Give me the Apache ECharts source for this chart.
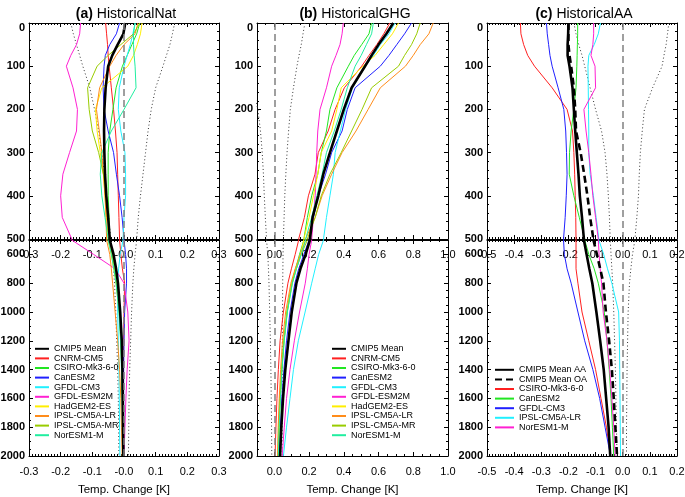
<!DOCTYPE html>
<html>
<head>
<meta charset="utf-8">
<script src="https://cdn.jsdelivr.net/npm/echarts@6/dist/echarts.min.js"></script>
<style>
  html, body { margin: 0; padding: 0; background: #fff; }
  #chart { width: 685px; height: 497px; }
</style>
</head>
<body>
<div id="chart"></div>
<script>
// depth levels (m), shared by every profile
var depth = [0, 25, 50, 75, 100, 150, 200, 250, 300, 350, 400, 450, 500, 600, 700, 800, 1000, 1200, 1400, 1600, 1800, 2000];

// (a) HistoricalNat, temperature change [K]
var natMean   = [0.004, -0.002, -0.02, -0.037, -0.05, -0.058, -0.062, -0.063, -0.062, -0.06, -0.056, -0.05, -0.045, -0.033, -0.025, -0.019, -0.012, -0.007, -0.005, -0.004, -0.003, -0.002];
var natCNRM   = [-0.058, -0.055, -0.052, -0.05, -0.047, -0.04, -0.033, -0.027, -0.022, -0.02, -0.018, -0.016, -0.014, -0.01, -0.005, 0.002, 0.0, -0.001, -0.002, -0.002, -0.002, -0.002];
var natCSIRO  = [0.05, 0.04, 0.025, 0.01, -0.005, -0.025, -0.035, -0.045, -0.05, -0.05, -0.05, -0.047, -0.045, -0.035, -0.027, -0.02, -0.012, -0.008, -0.006, -0.005, -0.004, -0.003];
var natCanESM = [-0.014, -0.024, -0.045, -0.059, -0.063, -0.066, -0.063, -0.05, -0.033, -0.024, -0.014, -0.006, 0.0, 0.005, 0.008, 0.008, 0.002, 0.0, -0.001, -0.001, -0.001, -0.001];
var natGFDLCM = [0.035, 0.028, 0.02, 0.01, 0.0, -0.015, -0.018, -0.01, 0.003, 0.005, 0.005, 0.0, -0.003, -0.012, -0.017, -0.02, -0.02, -0.018, -0.016, -0.015, -0.014, -0.013];
var natGFDLESM = [-0.137, -0.14, -0.15, -0.168, -0.182, -0.161, -0.147, -0.15, -0.172, -0.193, -0.2, -0.195, -0.165, -0.096, -0.028, 0.0, 0.012, 0.016, 0.01, 0.006, 0.003, 0.0];
var natHadGEM = [0.057, 0.052, 0.042, 0.03, 0.012, -0.07, -0.09, -0.085, -0.075, -0.065, -0.06, -0.055, -0.05, -0.04, -0.032, -0.025, -0.015, -0.01, -0.007, -0.005, -0.004, -0.003];
var natIPSLLR = [0.044, 0.035, 0.0, -0.025, -0.045, -0.077, -0.087, -0.078, -0.07, -0.065, -0.06, -0.057, -0.055, -0.045, -0.04, -0.036, -0.028, -0.02, -0.014, -0.01, -0.008, -0.006];
var natIPSLMR = [0.05, 0.03, -0.01, -0.05, -0.085, -0.115, -0.11, -0.1, -0.08, -0.065, -0.055, -0.05, -0.045, -0.038, -0.03, -0.024, -0.015, -0.01, -0.007, -0.005, -0.004, -0.003];
var natNorESM = [0.035, 0.03, 0.03, 0.032, 0.035, 0.038, 0.0, -0.04, -0.07, -0.075, -0.07, -0.06, -0.05, -0.04, -0.032, -0.025, -0.016, -0.011, -0.008, -0.006, -0.005, -0.004];
var natUpper  = [0.16, 0.153, 0.145, 0.134, 0.123, 0.1, 0.086, 0.076, 0.068, 0.06, 0.052, 0.045, 0.04, 0.035, 0.031, 0.028, 0.024, 0.021, 0.018, 0.016, 0.015, 0.014];
var natLower  = [-0.168, -0.16, -0.15, -0.14, -0.13, -0.108, -0.093, -0.08, -0.07, -0.062, -0.055, -0.048, -0.042, -0.037, -0.033, -0.03, -0.026, -0.023, -0.02, -0.018, -0.017, -0.016];

// (b) HistoricalGHG
var ghgMean   = [0.685, 0.645, 0.6, 0.56, 0.522, 0.445, 0.4, 0.36, 0.32, 0.282, 0.253, 0.22, 0.205, 0.18, 0.15, 0.127, 0.1, 0.081, 0.063, 0.05, 0.04, 0.033];
var ghgCNRM   = [0.665, 0.63, 0.59, 0.545, 0.503, 0.403, 0.35, 0.31, 0.253, 0.234, 0.196, 0.173, 0.14, 0.12, 0.098, 0.078, 0.052, 0.033, 0.023, 0.015, 0.009, 0.004];
var ghgCSIRO  = [0.56, 0.545, 0.503, 0.46, 0.426, 0.36, 0.32, 0.3, 0.27, 0.25, 0.215, 0.19, 0.17, 0.145, 0.122, 0.1, 0.072, 0.054, 0.042, 0.032, 0.025, 0.02];
var ghgCanESM = [0.79, 0.75, 0.705, 0.66, 0.61, 0.465, 0.42, 0.39, 0.33, 0.295, 0.253, 0.225, 0.2, 0.17, 0.14, 0.118, 0.09, 0.07, 0.055, 0.043, 0.035, 0.028];
var ghgGFDLCM = [0.695, 0.66, 0.61, 0.57, 0.525, 0.45, 0.41, 0.38, 0.35, 0.34, 0.32, 0.3, 0.283, 0.255, 0.235, 0.215, 0.177, 0.138, 0.11, 0.09, 0.07, 0.052];
var ghgGFDLESM = [0.397, 0.39, 0.378, 0.355, 0.33, 0.3, 0.263, 0.25, 0.244, 0.24, 0.235, 0.225, 0.215, 0.2, 0.19, 0.178, 0.145, 0.115, 0.09, 0.07, 0.057, 0.045];
var ghgHadGEM = [0.715, 0.68, 0.63, 0.58, 0.51, 0.385, 0.36, 0.33, 0.27, 0.25, 0.225, 0.2, 0.17, 0.15, 0.122, 0.1, 0.073, 0.055, 0.042, 0.033, 0.027, 0.022];
var ghgIPSLLR = [0.915, 0.89, 0.84, 0.8, 0.755, 0.61, 0.54, 0.47, 0.39, 0.33, 0.275, 0.235, 0.18, 0.15, 0.12, 0.095, 0.065, 0.047, 0.036, 0.028, 0.022, 0.018];
var ghgIPSLMR = [0.84, 0.82, 0.79, 0.75, 0.715, 0.56, 0.505, 0.445, 0.385, 0.32, 0.27, 0.235, 0.19, 0.155, 0.127, 0.103, 0.074, 0.056, 0.043, 0.034, 0.028, 0.023];
var ghgNorESM = [0.57, 0.56, 0.53, 0.5, 0.465, 0.42, 0.385, 0.345, 0.3, 0.275, 0.245, 0.215, 0.18, 0.155, 0.127, 0.104, 0.075, 0.057, 0.044, 0.035, 0.028, 0.023];
var ghgUpper  = [0.176, 0.165, 0.155, 0.142, 0.13, 0.11, 0.092, 0.082, 0.073, 0.066, 0.06, 0.056, 0.052, 0.05, 0.049, 0.048, 0.047, 0.046, 0.046, 0.045, 0.045, 0.045];
var ghgLower  = [-0.25, -0.22, -0.2, -0.18, -0.16, -0.125, -0.095, -0.08, -0.07, -0.063, -0.058, -0.052, -0.045, -0.038, -0.034, -0.031, -0.027, -0.023, -0.02, -0.018, -0.016, -0.015];

// (c) HistoricalAA
var aaMean    = [-0.2, -0.201, -0.203, -0.203, -0.196, -0.185, -0.18, -0.175, -0.169, -0.163, -0.158, -0.15, -0.143, -0.133, -0.123, -0.112, -0.097, -0.083, -0.07, -0.061, -0.052, -0.046];
var oaMean    = [-0.2, -0.2, -0.2, -0.196, -0.19, -0.18, -0.175, -0.172, -0.155, -0.142, -0.13, -0.12, -0.108, -0.095, -0.083, -0.071, -0.062, -0.05, -0.04, -0.033, -0.027, -0.021];
var aaCSIRO   = [-0.377, -0.375, -0.365, -0.35, -0.325, -0.26, -0.205, -0.185, -0.18, -0.177, -0.175, -0.173, -0.172, -0.172, -0.172, -0.165, -0.15, -0.125, -0.1, -0.08, -0.06, -0.045];
var aaCanESM  = [-0.166, -0.166, -0.167, -0.168, -0.169, -0.172, -0.18, -0.19, -0.196, -0.197, -0.18, -0.16, -0.14, -0.125, -0.105, -0.09, -0.068, -0.058, -0.05, -0.043, -0.038, -0.033];
var aaGFDLCM  = [-0.281, -0.278, -0.273, -0.268, -0.26, -0.238, -0.217, -0.21, -0.207, -0.205, -0.208, -0.212, -0.218, -0.215, -0.205, -0.19, -0.165, -0.14, -0.11, -0.085, -0.065, -0.045];
var aaIPSLLR  = [-0.082, -0.09, -0.105, -0.125, -0.128, -0.127, -0.126, -0.125, -0.125, -0.12, -0.108, -0.098, -0.088, -0.07, -0.056, -0.04, -0.015, -0.012, -0.011, -0.01, -0.009, -0.008];
var aaNorESM  = [-0.107, -0.107, -0.11, -0.117, -0.102, -0.1, -0.143, -0.135, -0.125, -0.117, -0.11, -0.1, -0.09, -0.087, -0.083, -0.078, -0.072, -0.058, -0.048, -0.04, -0.033, -0.028];
var aaUpper   = [0.17, 0.165, 0.16, 0.152, 0.145, 0.11, 0.08, 0.072, 0.065, 0.061, 0.058, 0.052, 0.045, 0.036, 0.03, 0.025, 0.02, 0.018, 0.016, 0.015, 0.014, 0.014];
var aaLower   = [-0.18, -0.172, -0.162, -0.15, -0.14, -0.12, -0.1, -0.078, -0.065, -0.058, -0.053, -0.049, -0.046, -0.043, -0.04, -0.037, -0.033, -0.03, -0.027, -0.025, -0.023, -0.021];

// tick labels
var natTickVals = [-0.3, -0.2, -0.1, 0, 0.1, 0.2, 0.3];
var natTickLabels = ['-0.3', '-0.2', '-0.1', '-0.0', '0.1', '0.2', '0.3'];
var ghgTickVals = [0, 0.2, 0.4, 0.6, 0.8, 1.0];
var ghgTickLabels = ['0.0', '0.2', '0.4', '0.6', '0.8', '1.0'];
var aaTickVals = [-0.5, -0.4, -0.3, -0.2, -0.1, 0, 0.1, 0.2];
var aaTickLabels = ['-0.5', '-0.4', '-0.3', '-0.2', '-0.1', '0.0', '0.1', '0.2'];
var topDepthTicks = [0, 100, 200, 300, 400, 500];
var bottomDepthTicks = [600, 800, 1000, 1200, 1400, 1600, 1800, 2000];

var FONT = '"Liberation Sans", Arial, Helvetica, sans-serif';
var modelColors = {
  'CMIP5 Mean': '#000000',
  'CNRM-CM5': '#ff2020',
  'CSIRO-Mk3-6-0': '#22e622',
  'CanESM2': '#2020ff',
  'GFDL-CM3': '#20f0ff',
  'GFDL-ESM2M': '#ff20d2',
  'HadGEM2-ES': '#ffee00',
  'IPSL-CM5A-LR': '#ff8c1a',
  'IPSL-CM5A-MR': '#99cc00',
  'NorESM1-M': '#20eea0'
};

var grids = [], xAxes = [], yAxes = [], series = [];

function labelFmt(vals, labels) {
  return function (v) {
    for (var i = 0; i < vals.length; i++) {
      if (Math.abs(vals[i] - v) < 1e-6) return labels[i];
    }
    return '';
  };
}

function addGrid(left, width, top, height, xr, yr) {
  var gi = grids.length;
  grids.push({ left: left, top: top, width: width, height: height, outerBoundsMode: 'none' });
  var axisLine = { show: true, onZero: false, lineStyle: { color: '#000', width: 1 } };
  var mainX = xAxes.length;
  xAxes.push({
    type: 'value', gridIndex: gi, position: 'bottom', min: xr.min, max: xr.max,
    axisLine: axisLine,
    axisTick: { show: true, inside: true, length: 4, customValues: xr.ticks, lineStyle: { color: '#000' } },
    axisLabel: {
      show: true, customValues: xr.ticks, margin: 10, showMinLabel: true, showMaxLabel: true,
      color: '#000', fontFamily: FONT, fontSize: 11, formatter: labelFmt(xr.ticks, xr.labels)
    },
    splitLine: { show: false },
    name: xr.name || '', nameLocation: 'middle', nameGap: 28,
    nameTextStyle: { color: '#000', fontFamily: FONT, fontSize: 11.5 }
  });
  xAxes.push({
    type: 'value', gridIndex: gi, position: 'top', min: xr.min, max: xr.max,
    axisLine: axisLine,
    axisTick: { show: true, inside: true, length: 4, customValues: xr.ticks, lineStyle: { color: '#000' } },
    axisLabel: { show: false }, splitLine: { show: false }
  });
  ['bottom', 'top'].forEach(function (pos) {
    xAxes.push({
      type: 'value', gridIndex: gi, position: pos, min: xr.min, max: xr.max, interval: xr.minor,
      axisLine: { show: false, onZero: false },
      axisTick: { show: true, inside: true, length: 2, lineStyle: { color: '#000' } },
      axisLabel: { show: false }, splitLine: { show: false }
    });
  });
  var mainY = yAxes.length;
  yAxes.push({
    type: 'value', gridIndex: gi, position: 'left', inverse: true, min: yr.min, max: yr.max,
    axisLine: axisLine,
    axisTick: { show: true, inside: true, length: 4, customValues: yr.ticks, lineStyle: { color: '#000' } },
    axisLabel: {
      show: true, customValues: yr.ticks, margin: 4, showMinLabel: true, showMaxLabel: true,
      color: '#000', fontFamily: FONT, fontSize: 11, fontWeight: 'bold',
      // the surface label sits a little below the frame, as in the original
      formatter: function (v) { return v === 0 ? '{z|0}' : String(Math.round(v)); },
      rich: { z: { padding: [10, 0, 0, 0], color: '#000', fontFamily: FONT, fontSize: 11, fontWeight: 'bold' } }
    },
    splitLine: { show: false }
  });
  yAxes.push({
    type: 'value', gridIndex: gi, position: 'right', inverse: true, min: yr.min, max: yr.max,
    axisLine: axisLine,
    axisTick: { show: true, inside: true, length: 4, customValues: yr.ticks, lineStyle: { color: '#000' } },
    axisLabel: { show: false }, splitLine: { show: false }
  });
  ['left', 'right'].forEach(function (pos) {
    yAxes.push({
      type: 'value', gridIndex: gi, position: pos, inverse: true, min: yr.min, max: yr.max, interval: yr.minor,
      axisLine: { show: false, onZero: false },
      axisTick: { show: true, inside: true, length: 2, lineStyle: { color: '#000' } },
      axisLabel: { show: false }, splitLine: { show: false }
    });
  });
  return { x: mainX, y: mainY };
}

function profile(vals) {
  return depth.map(function (d, i) { return [vals[i], d]; });
}

function addLine(axes, name, vals, color, width, type, extra) {
  var s = {
    type: 'line', name: name, xAxisIndex: axes.x, yAxisIndex: axes.y,
    data: profile(vals), symbol: 'none', showSymbol: false, clip: true, silent: true,
    lineStyle: { color: color, width: width, type: type || 'solid' },
    itemStyle: { color: color }
  };
  if (extra) s.markLine = extra;
  series.push(s);
}

var zeroLine = {
  silent: true, symbol: 'none', label: { show: false },
  lineStyle: { color: '#808080', width: 1.5, type: [7, 4] },
  data: [{ xAxis: 0 }]
};

var panels = [
  {
    left: 29, width: 190, min: -0.3, max: 0.3, ticks: natTickVals, labels: natTickLabels, minor: 0.01,
    upper: natUpper, lower: natLower,
    lines: [
      ['CNRM-CM5', natCNRM], ['CSIRO-Mk3-6-0', natCSIRO], ['CanESM2', natCanESM], ['GFDL-CM3', natGFDLCM],
      ['GFDL-ESM2M', natGFDLESM], ['HadGEM2-ES', natHadGEM], ['IPSL-CM5A-LR', natIPSLLR],
      ['IPSL-CM5A-MR', natIPSLMR], ['NorESM1-M', natNorESM]
    ],
    means: [['CMIP5 Mean', natMean, 'solid']]
  },
  {
    left: 257, width: 191, min: -0.1, max: 1.0, ticks: ghgTickVals, labels: ghgTickLabels, minor: 0.05,
    upper: ghgUpper, lower: ghgLower,
    lines: [
      ['CNRM-CM5', ghgCNRM], ['CSIRO-Mk3-6-0', ghgCSIRO], ['CanESM2', ghgCanESM], ['GFDL-CM3', ghgGFDLCM],
      ['GFDL-ESM2M', ghgGFDLESM], ['HadGEM2-ES', ghgHadGEM], ['IPSL-CM5A-LR', ghgIPSLLR],
      ['IPSL-CM5A-MR', ghgIPSLMR], ['NorESM1-M', ghgNorESM]
    ],
    means: [['CMIP5 Mean', ghgMean, 'solid']]
  },
  {
    left: 487, width: 190, min: -0.5, max: 0.2, ticks: aaTickVals, labels: aaTickLabels, minor: 0.01,
    upper: aaUpper, lower: aaLower,
    lines: [
      ['CSIRO-Mk3-6-0 (c)', aaCSIRO, '#ff2020'], ['CanESM2 (c)', aaCanESM, '#22e622'],
      ['GFDL-CM3 (c)', aaGFDLCM, '#2020ff'], ['IPSL-CM5A-LR (c)', aaIPSLLR, '#20f0ff'],
      ['NorESM1-M (c)', aaNorESM, '#ff20d2']
    ],
    means: [['CMIP5 Mean OA', oaMean, [7, 4]], ['CMIP5 Mean AA', aaMean, 'solid']]
  }
];

panels.forEach(function (p) {
  var xr = { min: p.min, max: p.max, ticks: p.ticks, labels: p.labels, minor: p.minor };
  var top = addGrid(p.left, p.width, 23, 216, xr, { min: 0, max: 500, ticks: topDepthTicks, minor: 20 });
  xr.name = 'Temp. Change [K]';
  var bot = addGrid(p.left, p.width, 240, 216, xr, { min: 500, max: 2000, ticks: bottomDepthTicks, minor: 50 });
  [top, bot].forEach(function (ax) {
    addLine(ax, '', p.lower, '#333', 1, [1, 2.5], zeroLine);
    addLine(ax, '', p.upper, '#333', 1, [1, 2.5]);
    p.lines.forEach(function (l) {
      addLine(ax, l[0], l[1], l[2] || modelColors[l[0]], 1, 'solid');
    });
    p.means.forEach(function (m) {
      addLine(ax, m[0], m[1], '#000', 2.6, m[2]);
    });
  });
});

var namesAB = ['CMIP5 Mean', 'CNRM-CM5', 'CSIRO-Mk3-6-0', 'CanESM2', 'GFDL-CM3', 'GFDL-ESM2M',
  'HadGEM2-ES', 'IPSL-CM5A-LR', 'IPSL-CM5A-MR', 'NorESM1-M'];
var namesC = ['CMIP5 Mean AA', 'CMIP5 Mean OA', 'CSIRO-Mk3-6-0 (c)', 'CanESM2 (c)', 'GFDL-CM3 (c)',
  'IPSL-CM5A-LR (c)', 'NorESM1-M (c)'];

function legendAt(left, top, names, w) {
  return {
    data: names, left: left, top: top, orient: 'vertical', padding: 0,
    itemWidth: w, itemHeight: 9, itemGap: 0, selectedMode: false,
    // hide the symbol the line legend icon draws, keep its line
    itemStyle: { color: 'rgba(0,0,0,0)', borderColor: 'rgba(0,0,0,0)', borderWidth: 0 },
    textStyle: { color: '#000', fontFamily: FONT, fontSize: 9, lineHeight: 9.6 },
    formatter: function (n) { return n.replace(' (c)', ''); }
  };
}

function titleAt(x, tag, text) {
  return {
    text: '{b|' + tag + '} ' + text, left: x, top: 2, textAlign: 'center',
    textStyle: {
      color: '#000', fontFamily: FONT, fontSize: 14, fontWeight: 'normal',
      rich: { b: { color: '#000', fontFamily: FONT, fontSize: 14, fontWeight: 'bold' } }
    }
  };
}

var chart = echarts.init(document.getElementById('chart'));
chart.setOption({
  animation: false,
  backgroundColor: '#fff',
  title: [titleAt(121, '(a)', 'HistoricalNat'), titleAt(350, '(b)', 'HistoricalGHG'), titleAt(579, '(c)', 'HistoricalAA')],
  legend: [legendAt(34, 344, namesAB, 14), legendAt(331, 344, namesAB, 14), legendAt(494, 365, namesC, 19)],
  grid: grids,
  xAxis: xAxes,
  yAxis: yAxes,
  series: series
});
</script>
</body>
</html>
